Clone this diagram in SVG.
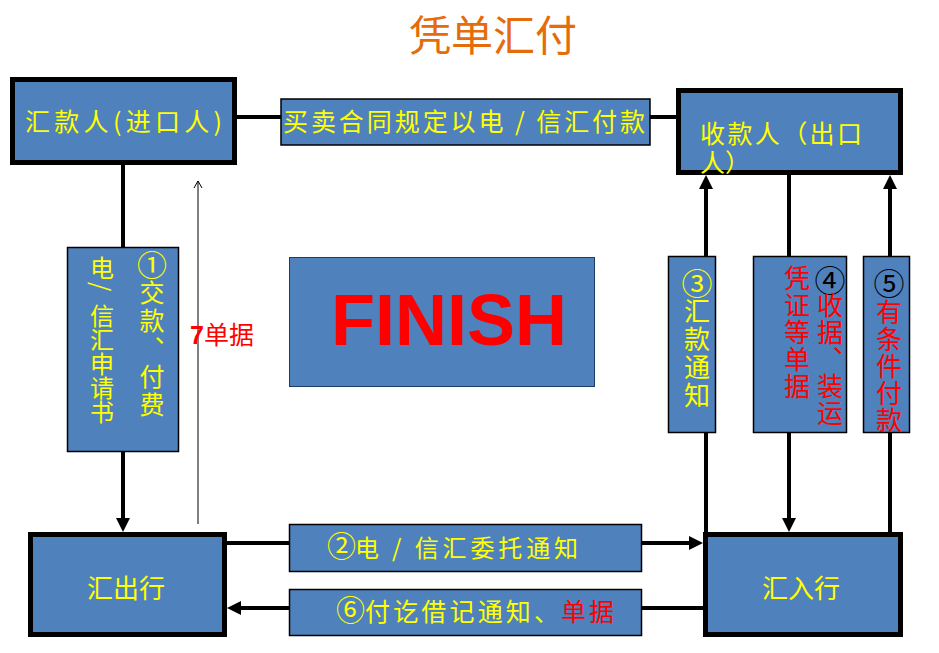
<svg xmlns="http://www.w3.org/2000/svg" width="939" height="653" viewBox="0 0 939 653">
<style>
.node{fill:#4F81BD;stroke:#000;stroke-width:5}
.lbl{fill:#4F81BD;stroke:#000;stroke-width:1.5}
.t{font-family:"Noto Sans CJK SC","Liberation Sans",sans-serif}
.y{fill:#FFFF00}
.r{fill:#FF0000}
.k{fill:#000}
.v{writing-mode:vertical-rl}
.ln{stroke:#000;stroke-width:4;fill:none}
</style>
<defs>
<marker id="ah" viewBox="0 0 14 14" markerWidth="14" markerHeight="14" refX="6" refY="7" orient="auto" markerUnits="userSpaceOnUse">
<path d="M0,0 L14,7 L0,14 z" fill="#000"/>
</marker>
</defs>
<rect width="939" height="653" fill="#fff"/>
<text x="493" y="51" class="t" font-size="42" fill="#E46C0A" text-anchor="middle">凭单汇付</text>

<g id="connectors">
<line class="ln" x1="237" y1="117" x2="281" y2="117"/>
<line class="ln" x1="649" y1="117" x2="677" y2="117"/>
<line class="ln" x1="123" y1="165" x2="123" y2="524" marker-end="url(#ah)"/>
<line class="ln" x1="227" y1="543" x2="290" y2="543"/>
<line class="ln" x1="641" y1="543" x2="695" y2="543" marker-end="url(#ah)"/>
<line class="ln" x1="703" y1="608" x2="641" y2="608"/>
<line class="ln" x1="290" y1="608" x2="235" y2="608" marker-end="url(#ah)"/>
<line class="ln" x1="706" y1="532" x2="706" y2="183" marker-end="url(#ah)"/>
<line class="ln" x1="789" y1="175" x2="789" y2="524" marker-end="url(#ah)"/>
<line class="ln" x1="890" y1="532" x2="890" y2="183" marker-end="url(#ah)"/>
<line x1="198" y1="524" x2="198" y2="181" stroke="#000" stroke-width="1"/>
<polyline points="194,188 198,181 202,188" stroke="#000" stroke-width="1" fill="none"/>
</g>

<g id="payer">
<rect class="node" x="12.5" y="79.5" width="222" height="83"/>
<text x="25" y="131" class="t y" font-size="25" textLength="197" lengthAdjust="spacing">汇款人(进口人)</text>
</g>

<g id="payee">
<rect class="node" x="678.5" y="90.5" width="222" height="82"/>
<text class="t y" font-size="25"><tspan x="700" y="143" textLength="162" lengthAdjust="spacing">收款人（出口</tspan><tspan x="700" y="172">人）</tspan></text>
</g>

<g id="remitting-bank">
<rect class="node" x="30.5" y="534.5" width="194" height="100"/>
<text x="126" y="598" class="t y" font-size="26" text-anchor="middle">汇出行</text>
</g>

<g id="paying-bank">
<rect class="node" x="705.5" y="534.5" width="195" height="100"/>
<text x="801" y="598" class="t y" font-size="26" text-anchor="middle">汇入行</text>
</g>

<g id="contract-label">
<rect class="lbl" x="281" y="99" width="369" height="46"/>
<text x="283" y="131" class="t y" font-size="25" textLength="362" lengthAdjust="spacing">买卖合同规定以电 / 信汇付款</text>
</g>

<g id="step1">
<rect class="lbl" x="67.5" y="247.5" width="111" height="204"/>
<text x="102" y="256" class="t y v" font-size="24">电<tspan y="282">/</tspan><tspan y="304">信汇申请书</tspan></text>
<text x="152" y="250" class="t y v" font-size="25" letter-spacing="3"><tspan font-size="30">①</tspan><tspan y="280">交款、付费</tspan></text>
</g>

<g id="step7">
<text x="190" y="344" class="t r" font-size="25"><tspan font-family="Liberation Sans" font-weight="bold">7</tspan>单据</text>
</g>

<g id="finish">
<rect x="289.5" y="257.5" width="305" height="129" fill="#4F81BD" stroke="#1F3A60" stroke-width="1"/>
<text x="449" y="345" font-family="Liberation Sans" font-weight="bold" font-size="72" fill="#FF0000" text-anchor="middle">FINISH</text>
</g>

<g id="step2">
<rect class="lbl" x="289.5" y="524.5" width="352" height="47"/>
<text y="557" class="t y" font-size="24"><tspan x="327" font-size="29">②</tspan><tspan x="355" textLength="223" lengthAdjust="spacing">电 / 信汇委托通知</tspan></text>
</g>

<g id="step6">
<rect class="lbl" x="289.5" y="589.5" width="352" height="46"/>
<text y="621" class="t y" font-size="25"><tspan x="336" font-size="29">⑥</tspan><tspan x="365" textLength="194" lengthAdjust="spacing">付讫借记通知、</tspan><tspan x="561" class="r" textLength="53" lengthAdjust="spacing">单据</tspan></text>
</g>

<g id="step3">
<rect class="lbl" x="668.5" y="256.5" width="47" height="176"/>
<text x="697" y="268" class="t y v" font-size="26" letter-spacing="2"><tspan font-size="31">③</tspan><tspan y="298">汇款通知</tspan></text>
</g>

<g id="step4">
<rect class="lbl" x="753.5" y="256.5" width="93" height="176"/>
<text x="830" y="265" class="t r v" font-size="26" letter-spacing="1"><tspan class="k" font-size="31">④</tspan><tspan y="292">收据、装运</tspan></text>
<text x="797" y="265" class="t r v" font-size="26" letter-spacing="1">凭证等单据</text>
</g>

<g id="step5">
<rect class="lbl" x="863.5" y="256.5" width="46" height="176"/>
<text x="889" y="268" class="t r v" font-size="26" letter-spacing="1"><tspan class="k" font-size="31">⑤</tspan><tspan y="299">有条件付款</tspan></text>
</g>
</svg>
